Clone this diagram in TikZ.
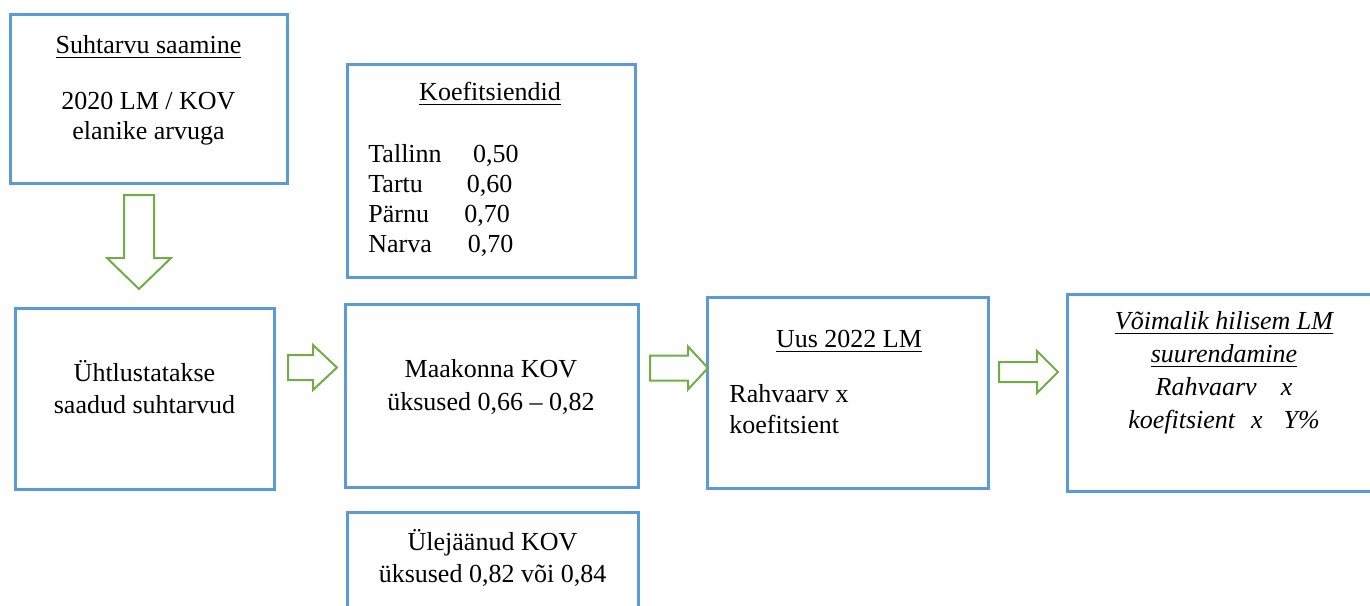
\documentclass[tikz,border=0pt]{standalone}
\usepackage{fontspec}
\setmainfont{Liberation Serif}
\usetikzlibrary{fit}
\definecolor{kastsinine}{RGB}{91,155,213}
\definecolor{noolroheline}{RGB}{112,173,71}
\newcommand{\joon}[1]{\setbox0\hbox{#1}\rlap{\rule[-2.4pt]{\wd0}{0.8pt}}\box0}

\begin{document}
\begin{tikzpicture}[x=0.5pt, y=-0.5pt,
		kast/.style={draw=kastsinine, line width=1.5pt, inner sep=0pt},
		tekst/.style={inner sep=0pt, align=center, font=\fontsize{13}{16}\selectfont},
		pics/plokknool/.style args={#1/#2/#3/#4}{code={
			\draw[noolroheline, line width=1pt] (0,-#3) -- (#1,-#3) -- (#1,-#4) -- (#1+#2,0) -- (#1,#4) -- (#1,#3) -- (0,#3) -- cycle;}}]
		\useasboundingbox (0,0) rectangle (1370,605);

		% Kastid
		\node[kast, fit={(10,14) (287,183)}] (saamine) {};
		\node[kast, fit={(347,64) (635,277)}] (koef) {};
		\node[kast, fit={(15,308) (274,489)}] (ytlus) {};
		\node[kast, fit={(345,304) (638,487)}] (maakond) {};
		\node[kast, fit={(707,297) (988,488)}] (uuslm) {};
		\node[kast, fit={(1067,294) (1380,491)}] (hilisem) {};
		\node[kast, fit={(347,512) (638,625)}] (ylej) {};

		% Tekstid
		\node[tekst, anchor=north, font=\fontsize{13}{15}\selectfont] (saaminet) at (148.5,32)
			{\strut\joon{Suhtarvu saamine}\\[13pt] 2020 LM / KOV\\ elanike arvuga};
		\node[tekst, anchor=north] (koefpealkiri) at (490,77.6) {\strut\joon{Koefitsiendid}};
		\node[tekst, anchor=north west, align=left, font=\fontsize{13}{15}\selectfont] (koefnimekiri) at (368,141)
			{\strut\makebox[52.3pt][l]{Tallinn}0,50\\
			 \makebox[49.3pt][l]{Tartu}0,60\\
			 \makebox[48pt][l]{Pärnu}0,70\\
			 \makebox[49.7pt][l]{Narva}0,70};
		\node[tekst, anchor=north] (ytlust) at (144.5,358.6) {\strut Ühtlustatakse\\ saadud suhtarvud};
		\node[tekst, anchor=north, font=\fontsize{13}{16.5}\selectfont] (maakondt) at (491,353.9)
			{\strut Maakonna KOV\\ üksused 0,66 – 0,82};
		\node[tekst, anchor=north] (uuslmpealkiri) at (849,324.6) {\strut\joon{Uus 2022 LM}};
		\node[tekst, anchor=north west, align=left, font=\fontsize{13}{15.5}\selectfont] (uuslmt) at (729,380.3)
			{\strut Rahvaarv x\\ koefitsient};
		\node[tekst, anchor=north, font=\fontsize{13}{16.5}\itshape] (hilisemt) at (1224,305.9)
			{\strut\joon{Võimalik hilisem LM}\\ \joon{suurendamine}\\ Rahvaarv\hspace{12pt}x\\ koefitsient\hspace{8pt}x\hspace{10.5pt}Y\%};
		\node[tekst, anchor=north] (ylejt) at (492.5,527.6) {\strut Ülejäänud KOV\\ üksused 0,82 või 0,84};

		% Nooled
		\coordinate (nool1) at (139,195);
		\coordinate (nool2) at (288,367.5);
		\coordinate (nool3) at (650,368);
		\coordinate (nool4) at (999,372);
		\pic[rotate=-90] at (nool1) {plokknool=63/31/15/32};
		\pic at (nool2) {plokknool=25/24/12.5/22.5};
		\pic at (nool3) {plokknool=38/20/12.5/21.5};
		\pic at (nool4) {plokknool=38/21/10/21};
	\end{tikzpicture}
\end{document}
